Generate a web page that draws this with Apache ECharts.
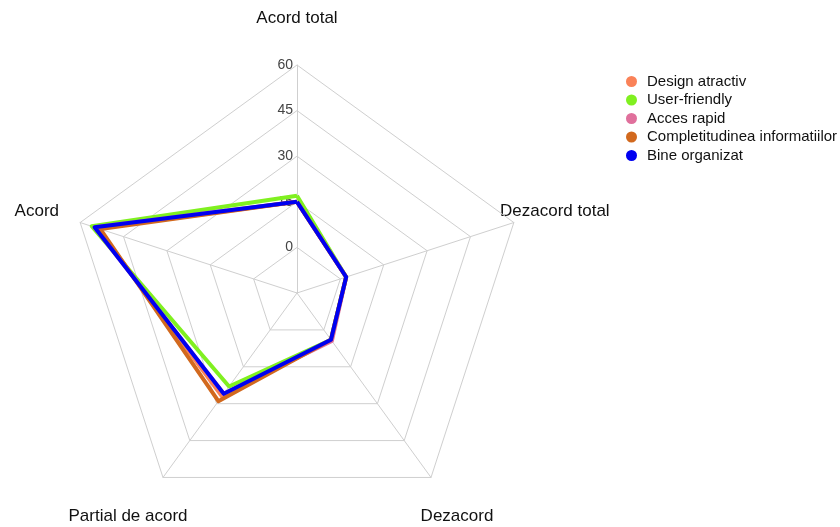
<!DOCTYPE html>
<html>
<head>
<meta charset="utf-8">
<script src="https://cdn.jsdelivr.net/npm/echarts@6/dist/echarts.min.js"></script>
<style>
  html, body { margin: 0; padding: 0; background: #fff; }
  #chart { width: 840px; height: 527px; }
</style>
</head>
<body>
<div id="chart"></div>
<script>
// Radar indicators, counter-clockwise from the top
const indicators = ['Acord total', 'Acord', 'Partial de acord', 'Dezacord', 'Dezacord total'];
const scaleMin = -15;
const scaleMax = 60;

const seriesNames = ['Design atractiv', 'User-friendly', 'Acces rapid', 'Completitudinea informatiilor', 'Bine organizat'];
const designAtractiv  = [15, 54, 27, 4, 2];
const userFriendly    = [17, 56, 23, 4, 2];
const accesRapid      = [15, 55, 26, 4.5, 2];
const completitudinea = [15, 53, 29, 4, 2];
const bineOrganizat   = [15, 55, 26, 4, 2];
const seriesValues = [designAtractiv, userFriendly, accesRapid, completitudinea, bineOrganizat];
const seriesColors = ['#FA8258', '#80F020', '#E0709C', '#D2691E', '#0000F0'];

// Axis title placement around the pentagon
const namePlacement = {
  'Acord total':      { x: 297, y: 18,  align: 'center' },
  'Acord':            { x: 59,  y: 211, align: 'right' },
  'Partial de acord': { x: 128, y: 516, align: 'center' },
  'Dezacord':         { x: 457, y: 516, align: 'center' },
  'Dezacord total':   { x: 500, y: 211, align: 'left' }
};

const chart = echarts.init(document.getElementById('chart'), null, { renderer: 'canvas' });

const indicatorList = indicators.map((name, i) => {
  const ind = { name: name, min: scaleMin, max: scaleMax };
  if (i === 0) {
    ind.axisLabel = {
      show: true,
      color: '#444',
      fontSize: 14,
      fontFamily: 'Liberation Sans, Arial, sans-serif',
      margin: 4,
      formatter: v => (v === scaleMin ? '' : String(v))
    };
  }
  return ind;
});

const option = {
  backgroundColor: '#ffffff',
  animation: false,
  legend: {
    orient: 'vertical',
    left: 621,
    top: 69,
    icon: 'circle',
    itemWidth: 11,
    itemHeight: 11,
    itemGap: 3.5,
    textStyle: {
      color: '#111',
      fontSize: 15,
      fontFamily: 'Liberation Sans, Arial, sans-serif',
      padding: [0, 0, 0, 5]
    },
    data: seriesNames
  },
  radar: {
    center: [297, 293],
    radius: 228,
    startAngle: 90,
    shape: 'polygon',
    splitNumber: 5,
    indicator: indicatorList,
    axisName: { show: false },
    axisLine: { lineStyle: { color: '#cfcfcf', width: 1 } },
    splitLine: { lineStyle: { color: '#cfcfcf', width: 1 } },
    splitArea: { show: false },
    axisTick: { show: false },
    axisLabel: { show: false }
  },
  series: [{
    type: 'radar',
    symbol: 'none',
    data: seriesNames.map((name, i) => ({
      name: name,
      value: seriesValues[i],
      lineStyle: { color: seriesColors[i], width: 4 },
      itemStyle: { color: seriesColors[i] }
    }))
  }],
  graphic: indicators.map(name => ({
    type: 'text',
    x: namePlacement[name].x,
    y: namePlacement[name].y,
    style: {
      text: name,
      fill: '#111',
      font: '17px "Liberation Sans", Arial, sans-serif',
      textAlign: namePlacement[name].align,
      textVerticalAlign: 'middle'
    }
  }))
};

chart.setOption(option);
</script>
</body>
</html>
